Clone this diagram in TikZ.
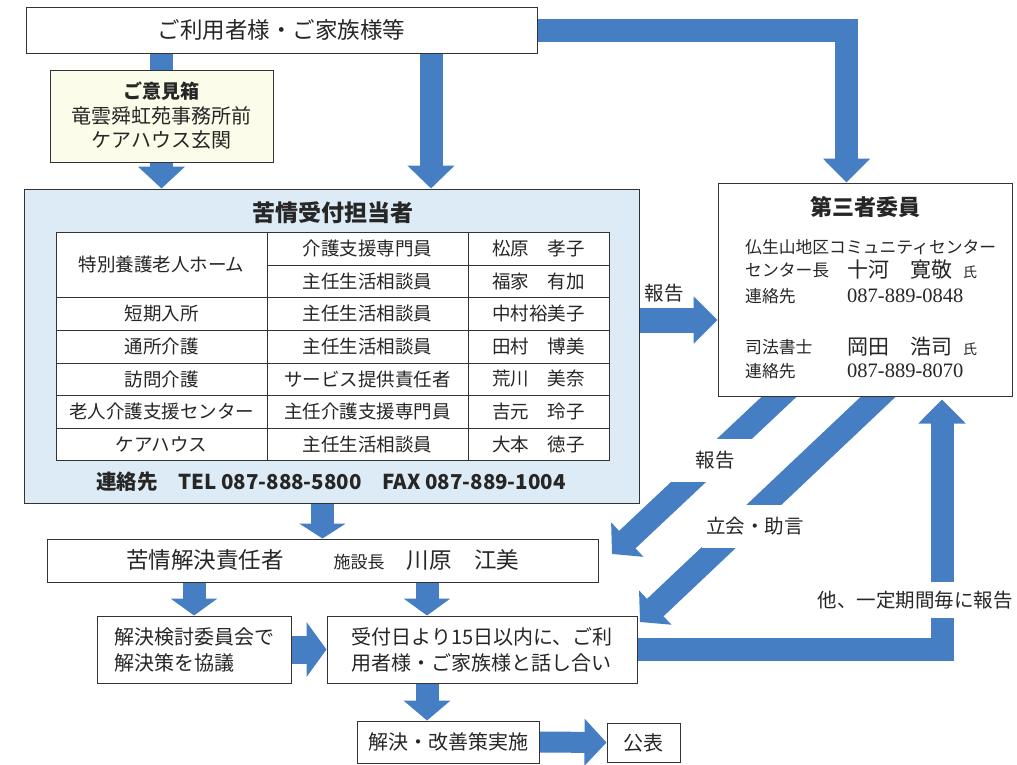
\documentclass[tikz,border=0pt]{standalone}
\usepackage{fontspec}
\setmainfont{Noto Sans CJK JP}
\newfontfamily\numfont{Liberation Serif}
\usetikzlibrary{arrows.meta,backgrounds}
\definecolor{flowblue}{RGB}{70,126,196}
\definecolor{recvblue}{RGB}{221,235,246}
\definecolor{boxcream}{RGB}{252,252,234}
\newcommand\jsize[1]{\fontsize{#1}{#1}\selectfont}
\tikzset{
  frame/.style={draw=black!80, line width=1pt, fill=white, inner sep=0pt},
  band/.style={draw=flowblue, line width=23pt},
  flow/.style={band, -{Triangle[length=#1,width=46pt]}},
  flow/.default=22pt,
  cell/.style={inner sep=0pt, font=\jsize{18.5}},
  small/.style={inner sep=0pt, anchor=west, font=\jsize{16.8}},
  big/.style={inner sep=0pt, anchor=west, font=\jsize{21}},
  lbl/.style={inner sep=0pt, font=\jsize{19.5}},
}
\begin{document}
\begin{tikzpicture}[x=1pt, y=-1pt, text=black!85]
    \useasboundingbox (0,0) rectangle (1017,764);

    % top row
    \node[frame, minimum width=511pt, minimum height=46pt, font=\jsize{22.5}] (users) at (281.5,30) {ご利用者様・ご家族様等};
    \node[frame, fill=boxcream, minimum width=223pt, minimum height=92pt, align=center, font=\jsize{20}] (box) at (161.5,116)
        {{\bfseries\jsize{19}ご意見箱}\\[4.5pt]竜雲舜虹苑事務所前\\[4.5pt]ケアハウス玄関};

    % complaint reception
    \node[frame, fill=recvblue, minimum width=615pt, minimum height=314pt] (recv) at (331.5,346) {};
    \node[font=\bfseries\jsize{23}] (recvtitle) at (333,213) {苦情受付担当者};
    \draw[black!80, line width=1pt, fill=white] (56,232) rectangle (609,460);
    \draw[black!80, line width=1pt] (267,232) -- (267,460) (468,232) -- (468,460) (267,265) -- (609,265)
        (56,297) -- (609,297) (56,330) -- (609,330) (56,363) -- (609,363) (56,395) -- (609,395) (56,428) -- (609,428);
    \node[cell] (s1) at (161.5,264.5) {特別養護老人ホーム};
    \node[cell] (j1) at (367.5,248.5) {介護支援専門員};
    \node[cell] (n1) at (538.5,248.5) {松原　孝子};
    \node[cell] (j2) at (367.5,281) {主任生活相談員};
    \node[cell] (n2) at (538.5,281) {福家　有加};
    \node[cell] (s3) at (161.5,313.5) {短期入所};
    \node[cell] (j3) at (367.5,313.5) {主任生活相談員};
    \node[cell] (n3) at (538.5,313.5) {中村裕美子};
    \node[cell] (s4) at (161.5,346.5) {通所介護};
    \node[cell] (j4) at (367.5,346.5) {主任生活相談員};
    \node[cell] (n4) at (538.5,346.5) {田村　博美};
    \node[cell] (s5) at (161.5,379) {訪問介護};
    \node[cell] (j5) at (367.5,379) {サービス提供責任者};
    \node[cell] (n5) at (538.5,379) {荒川　美奈};
    \node[cell] (s6) at (161.5,411.5) {老人介護支援センター};
    \node[cell] (j6) at (367.5,411.5) {主任介護支援専門員};
    \node[cell] (n6) at (538.5,411.5) {吉元　玲子};
    \node[cell] (s7) at (161.5,444) {ケアハウス};
    \node[cell] (j7) at (367.5,444) {主任生活相談員};
    \node[cell] (n7) at (538.5,444) {大本　徳子};
    \node[font=\bfseries\jsize{20.5}] (recvtel) at (331,482) {連絡先　TEL 087-888-5800　FAX 087-889-1004};

    % third party committee
    \node[frame, minimum width=294pt, minimum height=213pt] (third) at (865,289.5) {};
    \node[font=\bfseries\jsize{22}] (thirdtitle) at (865,207) {第三者委員};
    \node[small] (org) at (745,247) {仏生山地区コミュニティセンター};
    \node[small] (role1) at (745,270) {センター長};
    \node[big] (name1) at (847,270) {十河　寛敬};
    \node[small, font=\jsize{14}] (hon1) at (963,272) {氏};
    \node[small] (tel1) at (745,296) {連絡先};
    \node[big, font=\numfont\jsize{20.5}] (num1) at (847,296) {087-889-0848};
    \node[small] (role2) at (745,347) {司法書士};
    \node[big] (name2) at (847,347) {岡田　浩司};
    \node[small, font=\jsize{14}] (hon2) at (963,349) {氏};
    \node[small] (tel2) at (745,371) {連絡先};
    \node[big, font=\numfont\jsize{20.5}] (num2) at (847,371) {087-889-8070};

    % resolution
    \node[frame, minimum width=551pt, minimum height=43pt, font=\jsize{22.5}] (resolve) at (322.5,560.5)
        {苦情解決責任者\hspace{50pt}{\jsize{17}施設長}\hspace{22pt}川原　江美};
    \node[frame, minimum width=194pt, minimum height=67pt, align=left, font=\jsize{20}] (comm) at (194,649.5)
        {解決検討委員会で\\[6pt]解決策を協議};
    \node[frame, minimum width=310pt, minimum height=67pt, align=left, font=\jsize{20}] (talk) at (482,649.5)
        {受付日より15日以内に、ご利\\[6pt]用者様・ご家族様と話し合い};
    \node[frame, minimum width=182pt, minimum height=42pt, font=\jsize{20}] (impl) at (448,742) {解決・改善策実施};
    \node[frame, minimum width=73pt, minimum height=39pt, font=\jsize{20}] (pub) at (643.5,742.5) {公表};

    % arrows
    \coordinate (u2) at ([xshift=149.5pt]users.south);
    \coordinate (repA) at ([yshift=26pt]recv.east);
    \coordinate (tn) at ([xshift=-55pt]talk.north);
    \coordinate (inx) at ([xshift=-21pt]impl.north);
    \coordinate (d1s) at (798,379);
    \coordinate (d1e) at (612,554);
    \coordinate (d2s) at (897,379);
    \coordinate (d2e) at (640,622);
    \begin{scope}[on background layer]
        \draw[band] (users.south -| box.north) -- (box.north);
        \draw[flow] (box.south) -- (box.south |- recv.north);
        \draw[flow=23pt] (u2) -- (u2 |- recv.north);
        \draw[flow=24pt, line join=miter] (users.east) -| ([xshift=-18.5pt]third.north);
        \draw[flow=24pt, line width=25pt] (repA) -- (repA -| third.west);
        \draw[flow=15pt] (resolve.north |- recv.south) -- (resolve.north);
        \draw[flow=17pt] (comm.north |- resolve.south) -- (comm.north);
        \draw[flow=17pt] (tn |- resolve.south) -- (tn);
        \draw[band, line width=28pt, -{Triangle[length=20pt,width=54pt]}] (comm.east) -- (talk.west);
        \draw[flow=20pt] (inx |- talk.south) -- (inx);
        \draw[flow=22pt, line width=21pt] (impl.east) -- (pub.west);
        \draw[flow=24pt, line join=miter] (talk.east) -| ([xshift=77pt, yshift=-3pt]third.south);
        \draw[flow=21pt, line width=24pt] (d1s) -- (d1e);
        \draw[flow=21pt, line width=24pt] (d2s) -- (d2e);
    \end{scope}

    % labels
    \node[lbl] (rep1) at (664,293) {報告};
    \node[lbl, fill=white, minimum width=90pt, minimum height=43pt] (rep2) at (715,460) {報告};
    \node[lbl, fill=white, minimum width=106pt, minimum height=43pt] (adv) at (755,526) {立会・助言};
    \node[lbl, fill=white, minimum height=36pt, inner xsep=2pt] (per) at (915,600) {他、一定期間毎に報告};
\end{tikzpicture}
\end{document}
